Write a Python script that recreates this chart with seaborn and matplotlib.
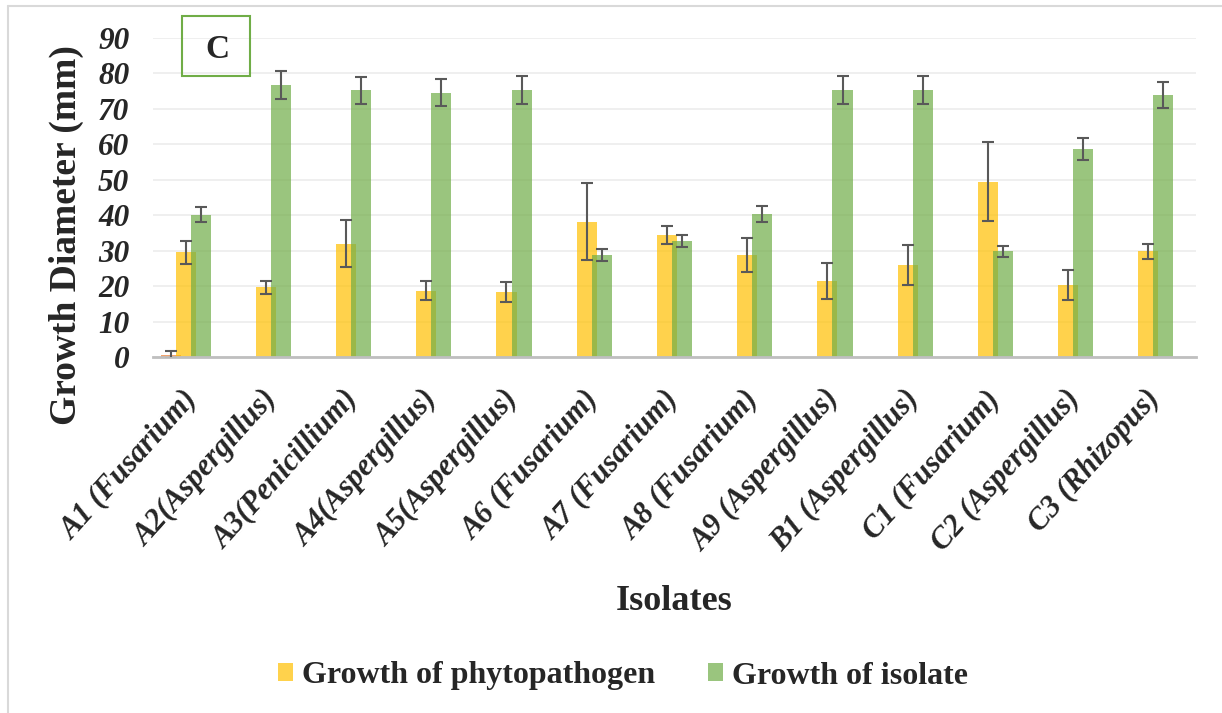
import numpy as np
import pandas as pd
import matplotlib
matplotlib.use("Agg")
import matplotlib.pyplot as plt
from matplotlib.transforms import ScaledTranslation
from matplotlib.patches import Rectangle, Patch
from matplotlib.lines import Line2D
import seaborn as sns

# ---- data -------------------------------------------------------------
isolates = ["A1 (Fusarium)", "A2(Aspergillus)", "A3(Penicillium)", "A4(Aspergillus)",
            "A5(Aspergillus)", "A6 (Fusarium)", "A7 (Fusarium)", "A8 (Fusarium)",
            "A9 (Aspergillus)", "B1 (Aspergillus)", "C1 (Fusarium)",
            "C2 (Aspergillus)", "C3 (Rhizopus)"]
pathogen_growth = [29.5, 19.7, 32.0, 18.7, 18.4, 38.2, 34.5, 28.8, 21.4, 26.0, 49.5, 20.4, 29.8]
pathogen_err = [3.3, 1.8, 6.6, 2.7, 2.9, 10.8, 2.6, 4.7, 5.1, 5.7, 11.1, 4.2, 2.2]
isolate_growth = [40.1, 76.7, 75.3, 74.6, 75.3, 28.8, 32.8, 40.4, 75.3, 75.3, 29.8, 58.6, 74.0]
isolate_err = [2.1, 3.9, 3.8, 3.9, 3.9, 1.6, 1.7, 2.3, 3.9, 3.9, 1.6, 3.1, 3.7]
control_growth = [0.6]
control_err = [1.2]
series_labels = ["Growth of phytopathogen", "Growth of isolate"]
y_ticks = list(range(0, 100, 10))

# ---- style ------------------------------------------------------------
sns.set_theme(style="white")
plt.rcParams["font.family"] = ["Liberation Serif", "DejaVu Serif"]

W, H = 1222, 713
fig = plt.figure(figsize=(W / 100, H / 100), dpi=100)
ax = fig.add_axes([153 / W, 1 - 357 / H, (1196 - 153) / W, (357 - 38) / H])

GOLD, GREEN, ORANGE = "#FFC000", "#70AD47", "#ED7D31"
ALPHA = 0.7
ERR_COLOR = "#595959"
bar_w = 0.25
off = 0.094

pos = np.arange(len(isolates))
df_ctrl = pd.DataFrame({"pos": [pos[0] - 0.28], "value": control_growth})
df_path = pd.DataFrame({"pos": pos - off, "value": pathogen_growth})
df_iso = pd.DataFrame({"pos": pos + off, "value": isolate_growth})

for df, col in [(df_ctrl, ORANGE), (df_path, GOLD), (df_iso, GREEN)]:
    sns.barplot(data=df, x="pos", y="value", native_scale=True, width=bar_w,
                color=col, saturation=1, alpha=ALPHA, errorbar=None,
                linewidth=0, ax=ax)

err_kw = dict(fmt="none", ecolor=ERR_COLOR, elinewidth=1.5, capsize=4.3,
              capthick=1.5, zorder=5)
ax.errorbar(df_ctrl["pos"], control_growth, yerr=control_err, **err_kw)
ax.errorbar(df_path["pos"], pathogen_growth, yerr=pathogen_err, **err_kw)
ax.errorbar(df_iso["pos"], isolate_growth, yerr=isolate_err, **err_kw)

# ---- axes -------------------------------------------------------------
ax.set_xlim(-0.5, len(isolates) - 0.5)
ax.set_ylim(0, 90)
ax.set_yticks(y_ticks)
ax.set_xticks(pos)
ax.set_xlabel("")
ax.set_ylabel("")
ax.yaxis.grid(True, color="#EBEBEB", linewidth=1.1)
ax.xaxis.grid(False)
ax.set_axisbelow(True)
for side in ["left", "right", "top"]:
    ax.spines[side].set_visible(False)
ax.spines["bottom"].set_color("#BFBFBF")
ax.spines["bottom"].set_linewidth(2)

tick_font = dict(family="Liberation Serif", weight="bold", style="italic")
ax.set_yticklabels([str(v) for v in y_ticks], fontsize=22.5, **tick_font)
ax.set_xticklabels(isolates, fontsize=22, rotation=48, ha="right", va="top",
                   **tick_font)
ax.tick_params(axis="y", length=0, pad=17)
ax.tick_params(axis="x", length=0, pad=20)
shift = ScaledTranslation(10 / 100, 0, fig.dpi_scale_trans)
for lab in ax.get_xticklabels():
    lab.set_transform(lab.get_transform() + shift)

# ---- titles and labels ------------------------------------------------
fig.text(66 / W, 1 - 235 / H, "Growth Diameter (mm)", rotation=90,
         ha="center", va="center", fontsize=27, fontweight="bold")
fig.text(674 / W, 1 - 610 / H, "Isolates", ha="center", va="baseline",
         fontsize=26, fontweight="bold")

# panel tag
fig.add_artist(Rectangle((182 / W, 1 - 76 / H), 68 / W, 60 / H,
                         transform=fig.transFigure, fill=False,
                         edgecolor=GREEN, linewidth=1.5))
fig.text(217 / W, 1 - 58 / H, "C", ha="center", va="baseline",
         fontsize=24, fontweight="bold")

# ---- legend -----------------------------------------------------------
handles = [Patch(facecolor=GOLD, alpha=ALPHA, edgecolor="none"),
           Patch(facecolor=GREEN, alpha=ALPHA, edgecolor="none")]
fig.legend(handles, series_labels, loc="center left",
           bbox_to_anchor=(278 / W, 1 - 676 / H), ncol=2, frameon=False,
           borderpad=0, borderaxespad=0, handlelength=0.47, handleheight=0.47,
           handletextpad=0.28, columnspacing=1.65,
           prop=dict(family="Liberation Serif", weight="bold", size=23))

# outer frame lines
fig.add_artist(Line2D([8 / W, 8 / W], [0, 1 - 6 / H], color="#D9D9D9",
                      linewidth=1.5, transform=fig.transFigure))
fig.add_artist(Line2D([8 / W, 1], [1 - 6 / H, 1 - 6 / H], color="#D9D9D9",
                      linewidth=1.5, transform=fig.transFigure))

fig.savefig("out.png", dpi=100)
